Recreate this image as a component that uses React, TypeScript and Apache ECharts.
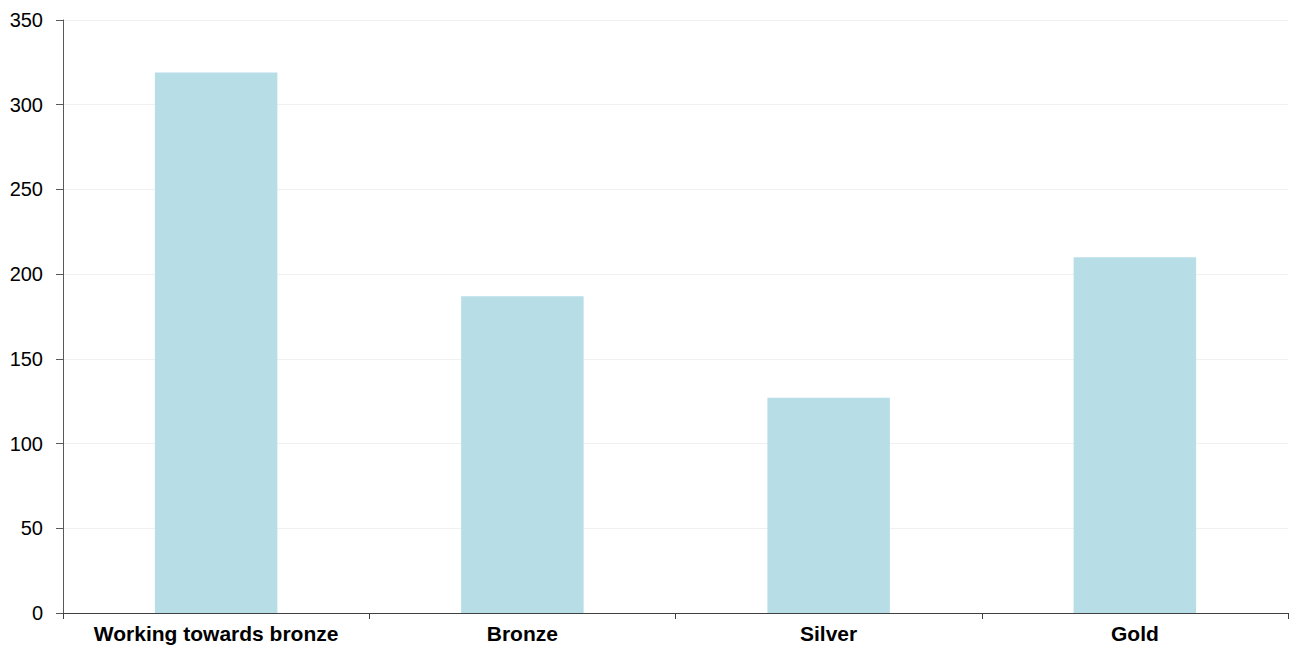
import React, { useEffect, useRef } from "react";
import * as echarts from "echarts";

const categories = ["Working towards bronze", "Bronze", "Silver", "Gold"];
const values = [319, 187, 127, 210];
const yTicks = { min: 0, max: 350, interval: 50 };

export default function App() {
  const ref = useRef<HTMLDivElement>(null);
  useEffect(() => {
    if (!ref.current) return;
    const chart = echarts.init(ref.current, null, { renderer: "svg" });
    chart.setOption({
      animation: false,
      backgroundColor: "#ffffff",
      grid: { left: 63, right: 7, top: 20, bottom: 37, containLabel: false },
      xAxis: {
        type: "category",
        data: categories,
        boundaryGap: true,
        axisLine: { show: true, lineStyle: { color: "#404040", width: 1 } },
        axisTick: { show: true, alignWithLabel: false, length: 6, lineStyle: { color: "#404040" } },
        axisLabel: {
          color: "#000000",
          fontFamily: "Liberation Sans, Arial, sans-serif",
          fontSize: 21,
          fontWeight: "bold",
          margin: 10,
          interval: 0,
        },
        splitLine: { show: false },
      },
      yAxis: {
        type: "value",
        min: yTicks.min,
        max: yTicks.max,
        interval: yTicks.interval,
        axisLine: { show: true, lineStyle: { color: "#595959", width: 1 } },
        axisTick: { show: true, length: 7, lineStyle: { color: "#595959" } },
        axisLabel: {
          color: "#000000",
          fontFamily: "Liberation Sans, Arial, sans-serif",
          fontSize: 20,
          margin: 20,
        },
        splitLine: { show: true, lineStyle: { color: "#f0f0f0", width: 1 } },
      },
      series: [
        {
          type: "bar",
          data: values,
          barWidth: "40%",
          itemStyle: { color: "#b7dde7" },
        },
      ],
    });
    return () => chart.dispose();
  }, []);
  return (
    <div
      ref={ref}
      style={{ position: "fixed", left: 0, top: 0, width: 1295, height: 650 }}
    />
  );
}
